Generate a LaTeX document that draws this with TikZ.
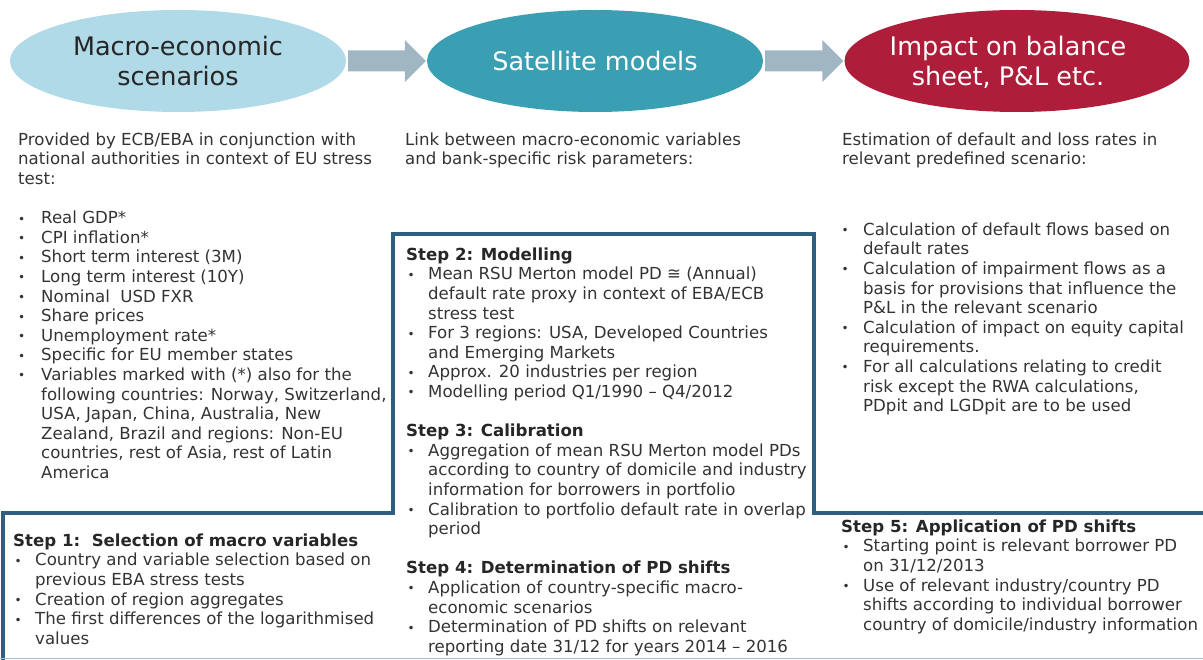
\documentclass[tikz,border=0pt]{standalone}
\usepackage{fontspec}
\setmainfont{DejaVu Sans}
\usetikzlibrary{shapes.geometric,calc}

\definecolor{txt}{HTML}{333333}
\definecolor{head}{HTML}{262626}
\definecolor{scenfill}{HTML}{B0DAE7}
\definecolor{satfill}{HTML}{3A9FB3}
\definecolor{impfill}{HTML}{AE1E3B}
\definecolor{arrowfill}{HTML}{A1B6C3}
\definecolor{frame}{HTML}{2E5F80}
\definecolor{baseline}{HTML}{A9BFCE}

% bullet list helpers
\newlength\bindent
\newlength\boff
\newcommand{\bu}{\strut\makebox[\bindent][l]{\hspace*{\boff}\raisebox{0.6pt}{\fontsize{12}{12}\selectfont •}}}
\newcommand{\ct}{\strut\hspace*{\bindent}}
\newcommand{\hd}[1]{\strut\textbf{\color{head}#1}}

\begin{document}
\begin{tikzpicture}[x=1pt,y=-1pt,
  bubble/.style={ellipse, inner sep=0pt, minimum width=336pt, minimum height=102pt,
    align=center, font=\fontsize{25.5}{30}\selectfont},
  txtblock/.style={anchor=north west, inner sep=0pt, align=left,
    font=\fontsize{16.6}{19.6}\selectfont, text=txt},
  flowarrow/.style={fill=arrowfill},
  stepframe/.style={draw=frame, line width=3.4pt, line join=miter},
  bottomrule/.style={draw=baseline, line width=1.5pt}]

\useasboundingbox (0,0) rectangle (1203,660);

% process bubbles
\node[bubble, fill=scenfill, text=head] (scen) at (178,61) {Macro-economic\\scenarios};
\node[bubble, fill=satfill, text=white] (sat) at (595,61) {Satellite models};
\node[bubble, fill=impfill, text=white, minimum width=345pt] (imp) at (1017,61) {};
\node[font=\fontsize{25.5}{30}\selectfont, text=white, align=center] (imptext) at (1008,62.5) {Impact on balance\\sheet, P\&L etc.};

% block arrows between the bubbles
\foreach \a/\b in {scen/sat, sat/imp}{
  \fill[flowarrow] ($(\a.east)+(2,-10.5)$) -- ($(\b.west)+(-22,-10.5)$)
    -- ($(\b.west)+(-22,-21)$) -- ($(\b.west)+(-1,0)$) -- ($(\b.west)+(-22,21)$)
    -- ($(\b.west)+(-22,10.5)$) -- ($(\a.east)+(2,10.5)$) -- cycle;
}

% stepped frame around the process steps
\draw[stepframe] (3,662) -- (3,513) -- (393,513) -- (393,234) -- (814,234) -- (814,513) -- (1206,513);
\draw[bottomrule] (0,658.5) -- (1203,658.5);

% left column
\setlength\bindent{23pt}\setlength\boff{0pt}
\node[txtblock] (lefttext) at (18,{145-13.72}) {%
\strut Provided by ECB/EBA in conjunction with\\
\strut national authorities in context of EU stress\\
\strut test:\\
\strut\\
\bu Real GDP*\\
\bu CPI inflation*\\
\bu Short term interest (3M)\\
\bu Long term interest (10Y)\\
\bu Nominal\ \ USD FXR\\
\bu Share prices\\
\bu Unemployment rate*\\
\bu Specific for EU member states\\
\bu Variables marked with (*) also for the\\
\ct following countries: Norway, Switzerland,\\
\ct USA, Japan, China, Australia, New\\
\ct Zealand, Brazil and regions: Non-EU\\
\ct countries, rest of Asia, rest of Latin\\
\ct America};

% middle column
\node[txtblock] (midtext) at (405,{145-13.72}) {%
\strut Link between macro-economic variables\\
\strut and bank-specific risk parameters:};

% right column
\node[txtblock] (righttext) at (842,{145-13.72}) {%
\strut Estimation of default and loss rates in\\
\strut relevant predefined scenario:};

\setlength\bindent{21pt}\setlength\boff{-0.5pt}
\node[txtblock] (rightlist) at (842,{235-13.72}) {%
\bu Calculation of default flows based on\\
\ct default rates\\
\bu Calculation of impairment flows as a\\
\ct basis for provisions that influence the\\
\ct P\&L in the relevant scenario\\
\bu Calculation of impact on equity capital\\
\ct requirements.\\
\bu For all calculations relating to credit\\
\ct risk except the RWA calculations,\\
\ct PDpit and LGDpit are to be used};

% step 1
\setlength\bindent{22pt}\setlength\boff{1.5pt}
\node[txtblock] (step1) at (13,{546-13.72}) {%
\hd{Step 1:\ \ Selection of macro variables}\\
\bu Country and variable selection based on\\
\ct previous EBA stress tests\\
\bu Creation of region aggregates\\
\bu The first differences of the logarithmised\\
\ct values};

% steps 2 to 4
\node[txtblock] (step2) at (406,{260-13.72}) {%
\hd{Step 2: Modelling}\\
\bu Mean RSU Merton model PD ≅ (Annual)\\
\ct default rate proxy in context of EBA/ECB\\
\ct stress test\\
\bu For 3 regions: USA, Developed Countries\\
\ct and Emerging Markets\\
\bu Approx. 20 industries per region\\
\bu Modelling period Q1/1990 – Q4/2012\\
\strut\\
\hd{Step 3: Calibration}\\
\bu Aggregation of mean RSU Merton model PDs\\
\ct according to country of domicile and industry\\
\ct information for borrowers in portfolio\\
\bu Calibration to portfolio default rate in overlap\\
\ct period\\
\strut\\
\hd{Step 4: Determination of PD shifts}\\
\bu Application of country-specific macro-\\
\ct economic scenarios\\
\bu Determination of PD shifts on relevant\\
\ct reporting date 31/12 for years 2014 – 2016};

% step 5
\node[txtblock] (step5) at (841,{532-13.72}) {%
\hd{Step 5: Application of PD shifts}\\
\bu Starting point is relevant borrower PD\\
\ct on 31/12/2013\\
\bu Use of relevant industry/country PD\\
\ct shifts according to individual borrower\\
\ct country of domicile/industry information};

\end{tikzpicture}
\end{document}
